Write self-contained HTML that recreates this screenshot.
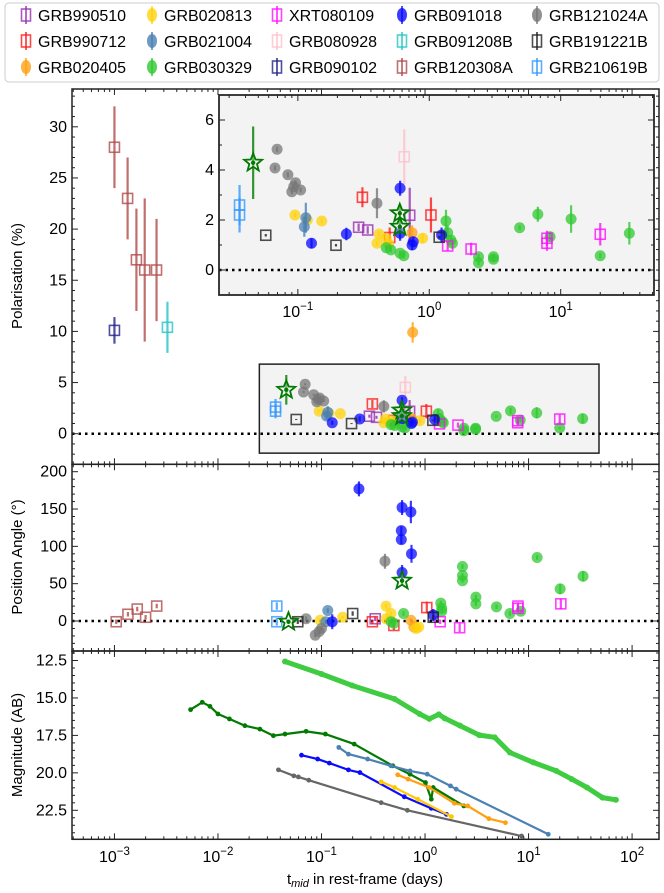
<!DOCTYPE html>
<html><head><meta charset="utf-8">
<style>
html,body{margin:0;padding:0;background:#fff;}
svg{display:block;font-family:"Liberation Sans","DejaVu Sans",sans-serif;}
</style></head>
<body>
<svg id="fig" width="664" height="893" viewBox="0 0 664 893" xmlns="http://www.w3.org/2000/svg">
<g id="legend"></g>
<g id="p1"></g>
<g id="p2"></g>
<g id="p3"></g>
<g id="ins"></g>
<text x="22" y="276" font-size="15" text-anchor="middle" transform="rotate(-90 22 276)">Polarisation (%)</text>
<text x="22" y="557" font-size="15" text-anchor="middle" transform="rotate(-90 22 557)">Position Angle (°)</text>
<text x="22" y="745" font-size="15" text-anchor="middle" transform="rotate(-90 22 745)">Magnitude (AB)</text>
<text x="365" y="884" font-size="15" text-anchor="middle">t<tspan font-size="11" font-style="italic" dy="3">mid</tspan><tspan dy="-3"> in rest-frame (days)</tspan></text>
</svg>
<script>
const seriesNames = ["GRB990510","GRB990712","GRB020405","GRB020813","GRB021004","GRB030329","XRT080109","GRB080928","GRB090102","GRB091018","GRB091208B","GRB120308A","GRB121024A","GRB191221B","GRB210619B","star"];
const seriesColors = ["#9a30b0","#ff1a1a","#ffa010","#ffd20a","#4a80b4","#30c830","#ff10ff","#ffc0cb","#22228a","#0a0aff","#20c4c4","#b04a4a","#777777","#222222","#3399ff","#007a00"];
const seriesMarkers = ["s","s","o","o","o","o","s","s","s","o","s","s","o","s","s","*"];
// polarisation: [t_days, P%, err]
const polData = [
 [[0.29,1.71,.15],[0.34,1.6,.15],[0.71,2.19,1.1]],
 [[0.31,2.91,.4],[1.03,2.2,.7],[0.50,1.3,.4]],
 [[0.74,1.49,.3],[0.76,9.9,1.0]],
 [[0.095,2.2,.1],[0.118,2.0,.1],[0.152,1.96,.1],[0.415,1.44,.1],[0.40,1.07,.1],[0.49,1.04,.1],[0.89,1.27,.2],[0.47,1.27,.1]],
 [[0.115,2.09,.6],[0.112,1.73,.4]],
 [[1.34,1.96,.45],[1.38,1.49,.3],[1.46,1.2,.2],[1.5,1.07,.2],[0.47,0.89,.1],[0.51,0.8,.1],[0.60,0.67,.1],[0.64,0.57,.1],[2.37,0.53,.1],[2.37,0.29,.1],[3.08,0.53,.1],[3.08,0.43,.1],[4.87,1.69,.1],[6.7,2.23,.3],[8.3,1.33,.2],[12.0,2.04,.55],[20.0,0.57,.1],[33.3,1.47,.45]],
 [[1.38,0.96,.2],[2.08,0.84,.25],[7.86,1.27,.3],[7.86,1.07,.3],[20,1.43,.45]],
 [[0.645,4.53,1.1]],
 [[0.001,10.1,1.3]],
 [[0.127,1.07,.2],[0.234,1.44,.25],[0.60,3.27,.3],[0.60,1.47,.3],[0.74,1.0,.2],[0.755,1.13,.2],[1.24,1.4,.3]],
 [[0.00325,10.4,2.5]],
 [[0.001,28,4],[0.00134,23,4],[0.00163,17,5],[0.00196,16,7],[0.00255,16,5]],
 [[0.0695,4.83,.1],[0.067,4.08,.1],[0.084,3.81,.1],[0.096,3.49,.1],[0.093,3.33,.1],[0.090,3.13,.1],[0.105,3.2,.1],[0.40,2.67,.6]],
 [[0.057,1.39,.05],[0.195,0.99,.05],[1.19,1.31,.05]],
 [[0.036,2.6,.8],[0.036,2.2,.7]],
 [[0.0457,4.29,1.45],[0.597,2.27,.3],[0.597,1.73,.3]]
];
// position angle: [t_days, PA deg, err]
const paData = [
 [[0.33,3,3]],
 [[1.04,18,8],[0.31,-1,3],[0.50,-6,6]],
 [[0.73,1,3],[0.78,-8,3]],
 [[0.097,1,2],[0.16,5,2],[0.42,20,3],[0.47,10,3],[0.42,3,3],[0.87,-8,3],[0.82,-10,3]],
 [[0.115,14,3],[0.11,-1,3]],
 [[2.3,73,3],[2.3,61,3],[2.3,54,3],[3.1,32,3],[3.1,23,3],[1.42,24,3],[1.45,17,3],[1.45,13,3],[0.47,-1,3],[0.5,-3,3],[0.62,10,3],[4.9,19,3],[6.6,10,3],[8.4,13,3],[12.1,85,3],[20.2,43,7],[33.6,60,7]],
 [[7.9,20,5],[7.9,17,5],[20.5,23,7],[1.4,-1,3],[2.16,-9,6]],
 [],
 [],
 [[0.23,177,10],[0.6,152,10],[0.73,146,15],[0.59,121,6],[0.59,109,6],[0.74,90,12],[0.6,65,10],[0.127,-1,10],[1.2,8,8]],
 [],
 [[0.00104,-1,3],[0.00135,9,3],[0.00166,16,3],[0.0020,5,3],[0.00256,20,3]],
 [[0.071,3,3],[0.087,-19,3],[0.095,-14,3],[0.1,-10,3],[0.41,80,10]],
 [[0.059,-1,3],[0.2,10,3],[1.2,5,3]],
 [[0.037,20,5],[0.037,-1,5]],
 [[0.048,-1,3],[0.60,54,5]]
];
// light curves
const lcNames = ["GRB030329","star","GRB021004","GRB091018","GRB020813","GRB020405","GRB121024A"];
const lcColors = ["#40cc40","#007a00","#4a80b4","#0a0aff","#ffc800","#ffa010","#666666"];
const lcTimes = [
 [0.0444,0.1,0.198,0.508,0.887,1.10,1.36,1.55,2.18,3.34,4.71,6.61,11.1,18.5,26.1,36.7,51.8,69.8],
 [0.00544,0.00705,0.00836,0.01,0.0129,0.0182,0.0254,0.0343,0.0444,0.071,0.109,0.207,0.488,0.716,1.01,1.15,1.20,2.37],
 [0.147,0.182,0.279,0.468,0.716,1.05,1.76,2.0,15.5],
 [0.0641,0.0918,0.119,0.182,0.235,0.631,1.15,1.61],
 [0.377,0.508,0.849,1.80],
 [0.545,0.686,1.10,1.92,2.59,4.14,5.98],
 [0.0384,0.054,0.0598,0.0753,0.377,0.675,8.57]
];
const lcMags = [
 [12.57,13.4,14.17,15.07,16.07,16.4,16.1,16.36,16.85,17.48,17.63,18.64,19.3,19.87,20.42,20.98,21.65,21.8],
 [15.78,15.29,15.56,16.07,16.4,16.85,17.08,17.52,17.41,17.23,17.41,18.08,19.53,20.09,20.65,21.76,20.98,22.21],
 [18.3,18.75,19.08,19.53,19.87,20.09,20.87,21.09,24.1],
 [18.82,19.08,19.35,19.8,19.98,21.6,22.37,22.77],
 [20.6,20.98,21.76,22.92],
 [20.13,20.42,20.98,22.03,22.21,23.06,23.33],
 [19.8,20.2,20.27,20.49,21.99,22.5,24.22]
];
const xTickLabels = ["-3","-2","-1","0","1","2"];
const insetXTickLabels = ["-1","0","1"];
const polTicks = [0,5,10,15,20,25,30];
const insetPolTicks = [0,2,4,6];
const paTicks = [0,50,100,150,200];
const magTicks = [12.5,15.0,17.5,20.0,22.5];

const NS="http://www.w3.org/2000/svg";
function mk(tag, parent, attrs){const e=document.createElementNS(NS,tag);for(const k in attrs)e.setAttribute(k,attrs[k]);parent.appendChild(e);return e;}
function logX(x0,x1,l0,l1){return t=>x0+(Math.log10(t)-l0)/(l1-l0)*(x1-x0);}
function linY(y0,y1,v0,v1){return v=>y0+(v-v0)/(v1-v0)*(y1-y0);}

const MX0=72,MX1=659,ML0=-3.41,ML1=2.26;
const xMain=logX(MX0,MX1,ML0,ML1);
const P1={top:89,bot:464.3}; const y1=linY(433.7,126.8,0,30);
const P2={top:464.3,bot:651}; const y2=linY(621,471.7,0,200);
const P3={top:651,bot:839.3}; const y3=linY(660.5,810.3,12.5,22.5);
const IX0=219,IX1=654,IL0=-1.60,IL1=1.71; const xIns=logX(IX0,IX1,IL0,IL1);
const IT=95,IB=295; const yIns=linY(270,120,0,6);

function drawMarker(g,kind,x,y,col,sz){
  let e;
  if(kind==="o"){e=mk("circle",g,{cx:x,cy:y,r:sz,fill:col,"fill-opacity":0.75});}
  else if(kind==="s"){e=mk("rect",g,{x:x-sz,y:y-sz,width:2*sz,height:2*sz,fill:"none",stroke:col,"stroke-width":1.6,"stroke-opacity":0.8});}
  else {let pts=[];for(let i=0;i<10;i++){const r=i%2?sz*0.45:sz*1.05;const a=-Math.PI/2+i*Math.PI/5;pts.push((x+r*Math.cos(a)).toFixed(1)+","+(y+r*Math.sin(a)).toFixed(1));}
    e=mk("polygon",g,{points:pts.join(" "),fill:"#fff","fill-opacity":0.3,stroke:col,"stroke-width":1.8});
    mk("circle",g,{cx:x,cy:y,r:2.2,fill:col});}
  return e;
}
function drawPoints(g,data,xf,yf,clip,sz,namePrefix){
  data.forEach((ser,si)=>{
    const col=seriesColors[si],kind=seriesMarkers[si];
    ser.forEach((d)=>{
      const x=xf(d[0]),y=yf(d[1]);
      if(clip && (y<clip.top||y>clip.bot||x<clip.left||x>clip.right))return;
      const grp=mk("g",g,{});
      
      
      if(d[2]>0){let ya=yf(d[1]-d[2]),yb=yf(d[1]+d[2]);if(clip){ya=Math.min(ya,clip.bot);yb=Math.max(yb,clip.top);}
        mk("line",grp,{x1:x,y1:ya,x2:x,y2:yb,stroke:col,"stroke-width":2.2,"stroke-opacity":0.8});}
      drawMarker(grp,kind,x,y,col,kind==="*"?sz+3.5:(kind==="s"?sz-0.5:sz));
    });
  });
}
function xTicks(g,top,bot,xf,l0,l1,labels,labelY,fs){
  for(let d=Math.floor(l0);d<=Math.ceil(l1);d++){
    for(let m=1;m<10;m++){const lv=d+Math.log10(m);if(lv<l0||lv>l1)continue;const x=xf(Math.pow(10,lv));const len=m===1?6:3;
      mk("line",g,{x1:x,y1:top,x2:x,y2:top+len,stroke:"#222","stroke-width":1});
      mk("line",g,{x1:x,y1:bot,x2:x,y2:bot-len,stroke:"#222","stroke-width":1});}
  }
  if(labels){labels.forEach(s=>{const x=xf(Math.pow(10,+s));const t=mk("text",g,{x:x,y:labelY,"font-size":fs,"text-anchor":"middle"});
    
    
    t.textContent="10";const sp=mk("tspan",t,{dy:-7,"font-size":fs*0.72});sp.textContent=s.replace("-","\u2212");});}
}
function yTicks(g,left,right,yf,v0,v1,minStep,majors,fmt,fs){
  for(let v=Math.ceil(v0/minStep)*minStep;v<=v1+1e-9;v+=minStep){const y=yf(v);const maj=majors.some(m=>Math.abs(m-v)<1e-6);const len=maj?6:3;
    mk("line",g,{x1:left,y1:y,x2:left+len,y2:y,stroke:"#222","stroke-width":1});
    mk("line",g,{x1:right,y1:y,x2:right-len,y2:y,stroke:"#222","stroke-width":1});}
  majors.forEach(v=>{const t=mk("text",g,{x:left-5,y:yf(v)+5,"font-size":fs,"text-anchor":"end"});
    
    
    t.textContent=fmt(v);});
}
function frame(g,x0,y0,x1,y1,fill){mk("rect",g,{x:x0,y:y0,width:x1-x0,height:y1-y0,fill:fill||"none",stroke:"#222","stroke-width":1.5});}
function zeroLine(g,x0,x1,y){const l=mk("line",g,{x1:x0,y1:y,x2:x1,y2:y,stroke:"#000","stroke-width":2.5,"stroke-dasharray":"2.5 4"});
  
  }

// Panel 1
const g1=document.getElementById("p1");
const pmin=-2.96,pmax=33.7;
const box=mk("rect",g1,{x:xMain(0.0251),y:y1(6.8),width:xMain(47.9)-xMain(0.0251),height:y1(-1.9)-y1(6.8),fill:"#f3f3f3",stroke:"#222","stroke-width":1.5});


zeroLine(g1,MX0,MX1,y1(0));
drawPoints(g1,polData,xMain,y1,null,5.5,'pol-point');
frame(g1,MX0,P1.top,MX1,P1.bot);
yTicks(g1,MX0,MX1,y1,pmin,pmax,1,polTicks,v=>String(v),16);
xTicks(g1,P1.top,P1.bot,xMain,ML0,ML1,null);

// Inset
const gi=document.getElementById("ins");
frame(gi,IX0,IT,IX1,IB,"#f3f3f3");
zeroLine(gi,IX0,IX1,yIns(0));
drawPoints(gi,polData,xIns,yIns,{top:IT,bot:IB,left:IX0,right:IX1},5.5,'inset-pol-point');
frame(gi,IX0,IT,IX1,IB);
yTicks(gi,IX0,IX1,yIns,-1,7,1,insetPolTicks,v=>String(v),16);
xTicks(gi,IT,IB,xIns,IL0,IL1,insetXTickLabels,317,16);

// Panel 2
const g2=document.getElementById("p2");
zeroLine(g2,MX0,MX1,y2(0));
drawPoints(g2,paData,xMain,y2,null,5.5,'pa-point');
frame(g2,MX0,P2.top,MX1,P2.bot);
yTicks(g2,MX0,MX1,y2,-40,210,10,paTicks,v=>String(v),16);
xTicks(g2,P2.top,P2.bot,xMain,ML0,ML1,null);

// Panel 3
const g3=document.getElementById("p3");
lcTimes.forEach((ts,i)=>{
  const pts=ts.map((t,j)=>xMain(t).toFixed(1)+","+y3(lcMags[i][j]).toFixed(1)).join(" ");
  const lg=mk("g",g3,{});
  
  
  mk("polyline",lg,{points:pts,fill:"none",stroke:lcColors[i],"stroke-width":i===0?5:2.2,"stroke-linejoin":"round"});
  ts.forEach((t,j)=>{mk("circle",lg,{cx:xMain(t),cy:y3(lcMags[i][j]),r:i===0?3:2.4,fill:lcColors[i]});});
});
frame(g3,MX0,P3.top,MX1,P3.bot);
yTicks(g3,MX0,MX1,y3,11.84,24.46,0.5,magTicks,v=>v.toFixed(1),16);
xTicks(g3,P3.top,P3.bot,xMain,ML0,ML1,xTickLabels,862,16);

// Legend
const gl=document.getElementById("legend");
const lb=mk("rect",gl,{x:5,y:3,width:654,height:79,rx:4,fill:"#fff",stroke:"#ccc","stroke-width":1});


const colX=[26,152,277,402,537];
for(let i=0;i<15;i++){
  const c=Math.floor(i/3),r=i%3;const x=colX[c],y=15+r*26;
  const eg=mk("g",gl,{});
  
  
  const col=seriesColors[i];
  mk("line",eg,{x1:x,y1:y-9,x2:x,y2:y+9,stroke:col,"stroke-width":1.8,"stroke-opacity":0.8});
  if(seriesMarkers[i]==="o")mk("ellipse",eg,{cx:x,cy:y,rx:5,ry:7,fill:col,"fill-opacity":0.8});
  else mk("rect",eg,{x:x-4.5,y:y-6,width:9,height:12,fill:"none",stroke:col,"stroke-width":1.6,"stroke-opacity":0.8});
  const t=mk("text",eg,{x:x+12,y:y+6,"font-size":16});
  t.textContent=seriesNames[i];
}
</script>
</body></html>
